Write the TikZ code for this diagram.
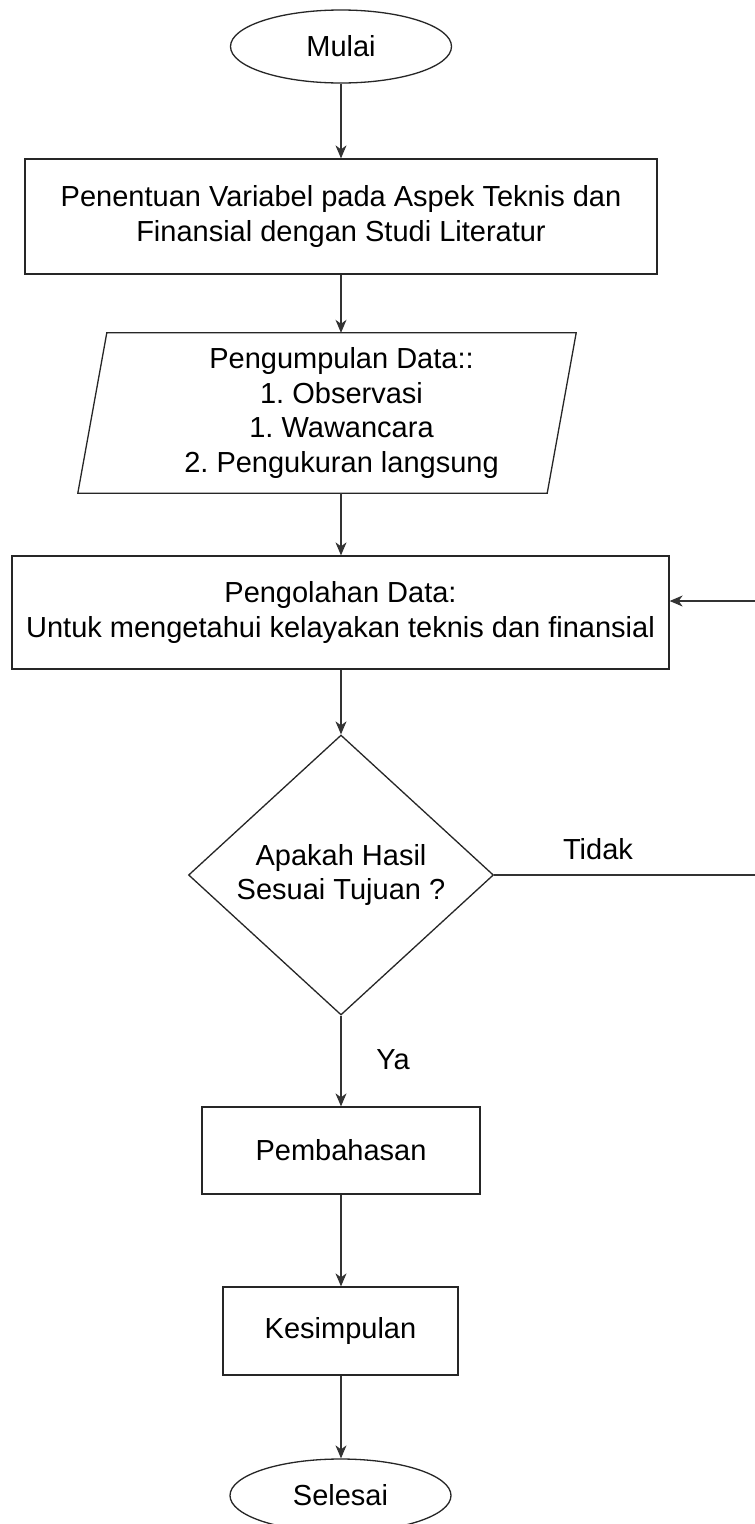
\documentclass[tikz,border=0pt]{standalone}
\usepackage{fontspec}
\setmainfont{Liberation Sans}
\frenchspacing
\usetikzlibrary{shapes.geometric,arrows.meta,calc}
\begin{document}
\begin{tikzpicture}[x=1pt,y=-1pt,
  every node/.style={font=\fontsize{29}{34.5}\selectfont\frenchspacing, inner sep=0pt, align=center},
  shapeline/.style={draw=black!85, line width=1.3pt},
  term/.style={shapeline, ellipse, minimum width=221pt, minimum height=73pt},
  procbox/.style={shapeline, rectangle},
  decis/.style={shapeline, diamond, minimum width=305pt, minimum height=280pt},
  conn/.style={draw=black!80, line width=1.1pt, -{Stealth[length=13pt,width=11pt,inset=4pt]}},
  lbl/.style={font=\fontsize{29}{34.5}\selectfont}
]
\useasboundingbox[fill=white] (0,0) rectangle (755,1524);

\node[term] (mulai) at (341,46.5) {Mulai};
\node[procbox, minimum width=632pt, minimum height=115pt] (box1) at (341,216.5)
  {Penentuan Variabel pada Aspek Teknis dan\\Finansial dengan Studi Literatur};
\node[minimum width=469pt, minimum height=160pt] (pg) at (341.5,413)
  {Pengumpulan Data::\\1. Observasi\\1. Wawancara\\2. Pengukuran langsung};
\draw[shapeline] (pg.north west) -- (pg.north east)
  -- ($(pg.south east)+(-29,0)$) -- ($(pg.south west)+(-29,0)$) -- cycle;
\node[procbox, minimum width=657pt, minimum height=113pt] (box3) at (340.5,612.5)
  {Pengolahan Data:\\Untuk mengetahui kelayakan teknis dan finansial};
\node[decis] (dec) at (341,875) {Apakah Hasil\\Sesuai Tujuan ?};
\node[procbox, minimum width=278pt, minimum height=87pt] (pemb) at (341,1150.5) {Pembahasan};
\node[procbox, minimum width=235pt, minimum height=88pt] (kes) at (340.5,1331) {Kesimpulan};
\node[term] (sel) at (340.5,1495.5) {Selesai};

\node[lbl] (tidak) at (598,849) {Tidak};
\node[lbl] (ya) at (393,1060) {Ya};

\coordinate (cr1) at (760,875);
\coordinate (cr2) at (760,601);

\draw[conn] (mulai.south) -- (box1.north);
\draw[conn] (box1.south) -- (box1.south |- pg.north);
\draw[conn] (box1.south |- pg.south) -- (box1.south |- box3.north);
\draw[conn] (box1.south |- box3.south) -- (dec.north);
\draw[conn] (dec.east) -- (cr1) -- (cr2) -- (cr2 -| box3.east);
\draw[conn] (dec.south) -- (pemb.north);
\draw[conn] (pemb.south) -- (pemb.south |- kes.north);
\draw[conn] (pemb.south |- kes.south) -- (pemb.south |- sel.north);
\end{tikzpicture}
\end{document}
